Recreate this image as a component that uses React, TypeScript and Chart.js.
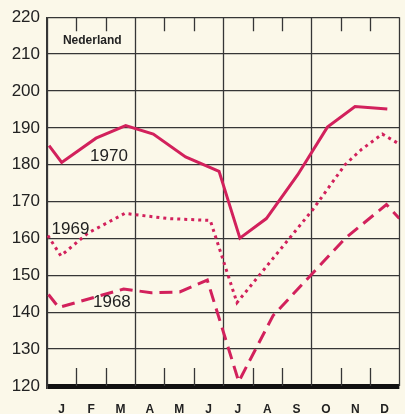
import React, { useEffect, useRef } from "react";
import { Chart, registerables } from "chart.js";

Chart.register(...registerables);

const months = ["J", "F", "M", "A", "M", "J", "J", "A", "S", "O", "N", "D"];

// x positions in months from start of January (0..12)
const x1970 = [0.07, 0.5, 1.67, 2.68, 3.62, 4.72, 5.86, 6.57, 7.47, 8.54, 9.55, 10.49, 11.59];
const v1970 = [185.2, 180.6, 187.2, 190.6, 188.3, 182.1, 178.2, 160.1, 165.4, 177.3, 190.2, 195.8, 195.1];

const x1969 = [0.03, 0.47, 1.38, 2.65, 4.12, 5.56, 6.47, 9.05, 10.15, 10.72, 11.42, 12.0];
const v1969 = [160.8, 155.3, 161.4, 166.8, 165.4, 164.9, 142.6, 167.8, 180.0, 184.2, 188.3, 185.6];

const x1968 = [0.05, 0.4, 2.61, 3.55, 4.52, 5.46, 6.53, 7.7, 10.15, 11.56, 12.0];
const v1968 = [144.8, 141.3, 146.3, 145.3, 145.5, 148.7, 121.2, 139.1, 160.0, 169.2, 165.4];

const yTicksMin = 120;
const yTicksMax = 220;

const zip = (xs: number[], ys: number[]) => xs.map((x, i) => ({ x, y: ys[i] }));

const LINE = "#d2215c";
const GRID = "#363636";
const BG = "#fbf8e9";

const framePlugin = {
  id: "frame",
  beforeDraw(chart: any) {
    const { ctx, width, height } = chart;
    ctx.save();
    ctx.fillStyle = BG;
    ctx.fillRect(0, 0, width, height);
    ctx.restore();
  },
  beforeDatasetsDraw(chart: any) {
    const { ctx, chartArea, scales } = chart;
    const xs = scales.x;
    ctx.save();
    ctx.strokeStyle = GRID;
    ctx.lineWidth = 1.3;
    for (let m = 0; m <= 12; m++) {
      const px = Math.round(xs.getPixelForValue(m)) + 0.5;
      ctx.beginPath();
      if (m % 3 === 0) {
        ctx.moveTo(px, chartArea.top);
        ctx.lineTo(px, chartArea.bottom);
      } else {
        ctx.moveTo(px, chartArea.top);
        ctx.lineTo(px, chartArea.top + 14);
        ctx.moveTo(px, chartArea.bottom - 18);
        ctx.lineTo(px, chartArea.bottom);
      }
      ctx.stroke();
    }
    ctx.restore();
  },
  afterDatasetsDraw(chart: any) {
    const { ctx, scales } = chart;
    const xs = scales.x;
    const ys = scales.y;
    const put = (t: string, m: number, v: number, font: string) => {
      ctx.font = font;
      ctx.fillStyle = "#222";
      ctx.textAlign = "center";
      ctx.textBaseline = "middle";
      ctx.fillText(t, xs.getPixelForValue(m), ys.getPixelForValue(v));
    };
    ctx.save();
    put("Nederland", 1.54, 213.5, "bold 12px 'Liberation Sans', Arial, sans-serif");
    put("1970", 2.11, 182.4, "17px 'Liberation Sans', Arial, sans-serif");
    put("1969", 0.8, 162.5, "17px 'Liberation Sans', Arial, sans-serif");
    put("1968", 2.21, 142.8, "17px 'Liberation Sans', Arial, sans-serif");
    ctx.restore();
  },
};

export default function App() {
  const ref = useRef<HTMLCanvasElement | null>(null);

  useEffect(() => {
    document.body.style.margin = "0";
    document.body.style.background = BG;
    const canvas = ref.current;
    if (!canvas) return;
    const chart = new Chart(canvas, {
      type: "line",
      data: {
        datasets: [
          {
            label: "1970",
            data: zip(x1970, v1970),
            borderColor: LINE,
            borderWidth: 3,
            pointRadius: 0,
            tension: 0,
          },
          {
            label: "1969",
            data: zip(x1969, v1969),
            borderColor: LINE,
            borderWidth: 3,
            borderDash: [3, 4],
            pointRadius: 0,
            tension: 0,
          },
          {
            label: "1968",
            data: zip(x1968, v1968),
            borderColor: LINE,
            borderWidth: 3,
            borderDash: [13, 7],
            pointRadius: 0,
            tension: 0,
          },
        ],
      },
      options: {
        responsive: false,
        animation: false,
        layout: { padding: { top: 14, left: 0, right: 0, bottom: 0 } },
        plugins: { legend: { display: false }, tooltip: { enabled: false } },
        scales: {
          x: {
            type: "linear",
            min: 0,
            max: 12,
            afterBuildTicks: (s: any) => {
              s.ticks = months.map((_, i) => ({ value: i + 0.5 }));
            },
            afterFit: (s: any) => {
              s.height = 28;
            },
            ticks: {
              autoSkip: false,
              maxRotation: 0,
              padding: 16,
              color: "#222",
              font: { family: "'Liberation Sans', Arial, sans-serif", size: 12, weight: "bold" },
              callback: (_v: any, i: number) => months[i],
            },
            grid: { display: false, drawTicks: false },
            border: { display: false },
          },
          y: {
            min: yTicksMin,
            max: yTicksMax,
            afterFit: (s: any) => {
              s.width = 47;
            },
            ticks: {
              stepSize: 10,
              padding: 7,
              color: "#222",
              font: { family: "'Liberation Sans', Arial, sans-serif", size: 17 },
            },
            grid: {
              color: (c: any) => (c.tick && c.tick.value === 120 ? "#111" : GRID),
              lineWidth: (c: any) => (c.tick && c.tick.value === 120 ? 5 : 1.3),
              drawTicks: false,
            },
            border: { display: true, color: GRID, width: 1.3 },
          },
        },
      },
      plugins: [framePlugin],
    });
    return () => chart.destroy();
  }, []);

  return <canvas ref={ref} width={405} height={414} style={{ display: "block" }} />;
}
